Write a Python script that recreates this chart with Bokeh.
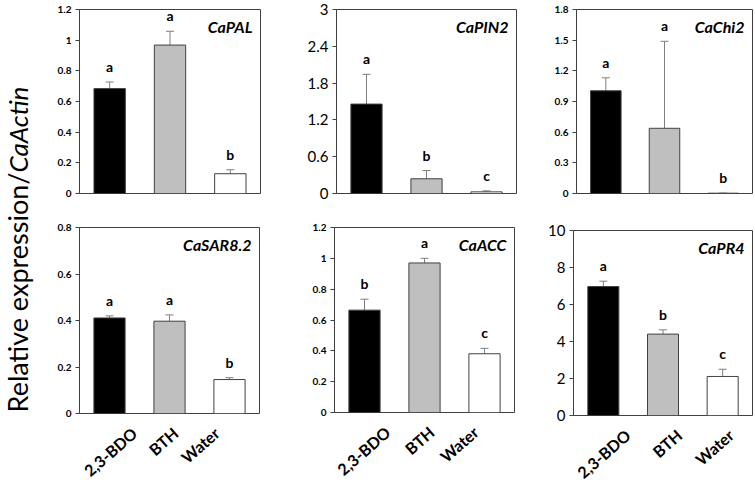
import numpy as np
from bokeh.plotting import figure
from bokeh.models import (ColumnDataSource, Range1d, FactorRange, FixedTicker,
                          CustomJSTickFormatter, Whisker, TeeHead, Label)
from bokeh.layouts import row, column
from bokeh.embed import file_html
from bokeh.resources import INLINE
from bokeh.core.properties import value

# ---------------- data ----------------
treatments = ["2,3-BDO", "BTH", "Water"]
bar_colors = ["#000000", "#bfbfbf", "#ffffff"]

capal_mean = [0.684, 0.968, 0.129]
capal_err = [0.043, 0.090, 0.026]
capal_letters = ["a", "a", "b"]
capal_ticks = [0, 0.2, 0.4, 0.6, 0.8, 1, 1.2]
capal_tick_labels = ["0", "0.2", "0.4", "0.6", "0.8", "1", "1.2"]

capin2_mean = [1.458, 0.240, 0.027]
capin2_err = [0.485, 0.134, 0.016]
capin2_letters = ["a", "b", "c"]
capin2_ticks = [0, 0.6, 1.2, 1.8, 2.4, 3]
capin2_tick_labels = ["0", "0.6", "1.2", "1.8", "2.4", "3"]

cachi2_mean = [1.005, 0.638, 0.003]
cachi2_err = [0.127, 0.851, 0.001]
cachi2_letters = ["a", "a", "b"]
cachi2_ticks = [0, 0.3, 0.6, 0.9, 1.2, 1.5, 1.8]
cachi2_tick_labels = ["0", "0.3", "0.6", "0.9", "1.2", "1.5", "1.8"]

casar_mean = [0.411, 0.397, 0.146]
casar_err = [0.009, 0.027, 0.008]
casar_letters = ["a", "a", "b"]
casar_ticks = [0, 0.2, 0.4, 0.6, 0.8]
casar_tick_labels = ["0", "0.2", "0.4", "0.6", "0.8"]

caacc_mean = [0.664, 0.970, 0.381]
caacc_err = [0.071, 0.030, 0.035]
caacc_letters = ["b", "a", "c"]
caacc_ticks = [0, 0.2, 0.4, 0.6, 0.8, 1, 1.2]
caacc_tick_labels = ["0", "0.2", "0.4", "0.6", "0.8", "1", "1.2"]

capr4_mean = [6.97, 4.40, 2.11]
capr4_err = [0.29, 0.23, 0.39]
capr4_letters = ["a", "b", "c"]
capr4_ticks = [0, 2, 4, 6, 8, 10]
capr4_tick_labels = ["0", "2", "4", "6", "8", "10"]

ylabel_main = "Relative expression/"
ylabel_italic = "CaActin"

# ---------------- styling ----------------
FONT = "Lato"
EDGE = "#404040"
ERRC = "#7f7f7f"
XLABEL_ANGLE = 0.72  # radians, about 41 degrees


def panel(gene, mean, err, letters, ticks, tick_labels, width, height,
          bl, br, bt, bb, big_ticks):
    upper = [m + e for m, e in zip(mean, err)]
    src = ColumnDataSource(dict(cat=treatments, val=mean, upper=upper,
                                color=bar_colors, letter=letters))
    p = figure(x_range=FactorRange(*treatments, range_padding=0),
               y_range=Range1d(0, ticks[-1]),
               width=width, height=height, output_backend="svg",
               toolbar_location=None, min_border_left=bl, min_border_right=br,
               min_border_top=bt, min_border_bottom=bb)
    p.vbar(x="cat", top="val", width=0.52, fill_color="color",
           line_color=EDGE, line_width=1, source=src)
    p.add_layout(Whisker(base="cat", lower="val", upper="upper", source=src,
                         line_color=ERRC, line_width=1, lower_head=None,
                         upper_head=TeeHead(size=8, line_color=ERRC, line_width=1)))
    p.text(x="cat", y="upper", text="letter", source=src, text_align="center",
           text_baseline="bottom", y_offset=-7, text_font=value(FONT),
           text_font_style="bold", text_font_size="14px", text_color="#000000")
    p.add_layout(Label(x=len(treatments), y=ticks[-1], x_offset=-8, y_offset=-7,
                       text=gene, text_align="right", text_baseline="top",
                       text_font=FONT, text_font_style="bold italic",
                       text_font_size="16px", text_color="#000000"))
    p.xgrid.visible = False
    p.ygrid.visible = False
    p.outline_line_color = EDGE
    p.outline_line_width = 1
    p.background_fill_color = "white"
    p.border_fill_color = "white"

    ya = p.yaxis[0]
    ya.ticker = FixedTicker(ticks=ticks)
    ya.formatter = CustomJSTickFormatter(
        args=dict(vals=ticks, labels=tick_labels),
        code="const i = vals.findIndex(v => Math.abs(v - tick) < 1e-9); return i >= 0 ? labels[i] : '';")
    ya.minor_tick_line_color = None
    ya.major_tick_in = 0
    ya.major_tick_out = 4
    ya.major_tick_line_color = EDGE
    ya.axis_line_color = EDGE
    ya.major_label_standoff = 4
    ya.major_label_text_font = FONT
    ya.major_label_text_color = "#000000"
    if big_ticks:
        ya.major_label_text_font_size = "15px"
        ya.major_label_text_font_style = "normal"
    else:
        ya.major_label_text_font_size = "10px"
        ya.major_label_text_font_style = "bold"
    p.xaxis.visible = False
    return p


def xlabels(width, height, bl, br, yoff):
    """Strip under a panel with the rotated category names, aligned to the
    panel's factor range (synthetic coordinates 0..n)."""
    n = len(treatments)
    fw = width - bl - br
    per = fw / n
    f = figure(width=width, height=height, output_backend="svg",
               toolbar_location=None, min_border=0,
               x_range=Range1d(-bl / per, n + br / per),
               y_range=Range1d(0, height / per))
    f.axis.visible = False
    f.grid.visible = False
    f.outline_line_color = None
    src = ColumnDataSource(dict(pos=[i + 0.5 for i in range(n)],
                                top=[height / per] * n, name=treatments))
    f.text(x="pos", y="top", text="name", source=src, angle=XLABEL_ANGLE,
           text_align="right", text_baseline="middle", x_offset=6, y_offset=yoff,
           text_font=value(FONT), text_font_style="bold", text_font_size="16px",
           text_color="#000000")
    return f


p1 = panel("CaPAL", capal_mean, capal_err, capal_letters, capal_ticks, capal_tick_labels,
           262, 220, 41, 40, 7, 27, False)
p2 = panel("CaPIN2", capin2_mean, capin2_err, capin2_letters, capin2_ticks, capin2_tick_labels,
           245, 220, 36, 29, 6, 27, True)
p3 = panel("CaChi2", cachi2_mean, cachi2_err, cachi2_letters, cachi2_ticks, cachi2_tick_labels,
           209, 220, 31, 2, 9, 27, False)
p4 = panel("CaSAR8.2", casar_mean, casar_err, casar_letters, casar_ticks, casar_tick_labels,
           262, 199, 41, 41, 7, 6, False)
p5 = panel("CaACC", caacc_mean, caacc_err, caacc_letters, caacc_ticks, caacc_tick_labels,
           245, 198, 34, 31, 7, 6, False)
p6 = panel("CaPR4", capr4_mean, capr4_err, capr4_letters, capr4_ticks, capr4_tick_labels,
           209, 203, 26, 2, 10, 8, True)
x4 = xlabels(262, 63, 41, 41, 11)
x5 = xlabels(245, 64, 34, 31, 11)
x6 = xlabels(209, 59, 26, 2, 9)

# y-axis title in its own narrow figure (mixed upright / italic text)
lab = figure(width=38, height=482, x_range=Range1d(0, 38), y_range=Range1d(0, 482),
             output_backend="svg", toolbar_location=None, min_border=0)
lab.axis.visible = False
lab.grid.visible = False
lab.outline_line_color = None
lab.text(x=[17], y=[310], text=[ylabel_main], angle=np.pi / 2, text_align="right",
         text_baseline="middle", text_font=value(FONT), text_font_size="27px",
         text_color="#000000")
lab.text(x=[17], y=[310], text=[ylabel_italic], angle=np.pi / 2, text_align="left",
         text_baseline="middle", text_font=value(FONT), text_font_style="italic",
         text_font_size="26px", text_color="#000000")

layout = row(lab, column(row(p1, p2, p3),
                         row(column(p4, x4), column(p5, x5), column(p6, x6))))

open("out.html", "w").write(file_html(layout, INLINE))
